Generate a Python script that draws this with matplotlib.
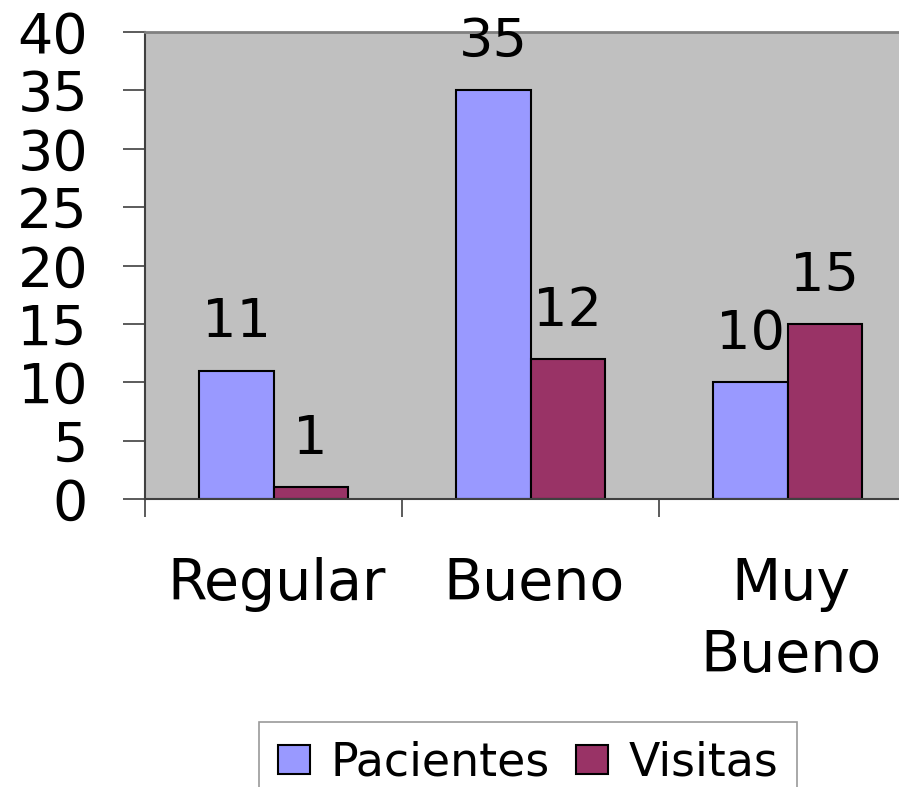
import numpy as np
import matplotlib
matplotlib.use("Agg")
import matplotlib.pyplot as plt

categories = ["Regular", "Bueno", "Muy\nBueno"]
pacientes = [11, 35, 10]
visitas = [1, 12, 15]
yticks = [0, 5, 10, 15, 20, 25, 30, 35, 40]

plt.rcParams['font.family'] = ['DejaVu Sans']

fig = plt.figure(figsize=(8.99, 7.87), dpi=100)
ax = fig.add_axes([145 / 899, 1 - 499 / 787, 771 / 899, 467 / 787])
ax.set_facecolor('#C0C0C0')

x = np.arange(len(categories))
w = 0.288
b1 = ax.bar(x - w / 2, pacientes, w, color='#9999FF', edgecolor='black', linewidth=1.5, label='Pacientes')
b2 = ax.bar(x + w / 2, visitas, w, color='#993366', edgecolor='black', linewidth=1.5, label='Visitas')

for bars, vals in ((b1, pacientes), (b2, visitas)):
    for r, v in zip(bars, vals):
        ax.annotate(str(v), (r.get_x() + r.get_width() / 2, v), xytext=(0, 24),
                    textcoords='offset points', ha='center', va='baseline', fontsize=39)

ax.set_xlim(-0.5, 2.5)
ax.set_ylim(0, 40)
ax.set_yticks(yticks)
ax.tick_params(axis='y', labelsize=40, length=16, width=1.2, color='#404040', pad=25)
ax.set_xticks(x + 0.012)
ax.set_xticklabels(categories, fontsize=41, linespacing=1.38)
ax.tick_params(axis='x', which='major', length=0, pad=42)
ax.set_xticks([-0.5, 0.5, 1.5, 2.5], minor=True)
ax.tick_params(axis='x', which='minor', length=13, width=1.2, color='#404040')

ax.spines['left'].set_color('#404040')
ax.spines['left'].set_linewidth(1.5)
ax.spines['bottom'].set_color('#404040')
ax.spines['bottom'].set_linewidth(1.5)
ax.spines['top'].set_color('#808080')
ax.spines['top'].set_linewidth(2)
ax.spines['right'].set_visible(False)

leg = fig.legend(loc='upper left', bbox_to_anchor=(259 / 899, 1 - 722 / 787), ncol=2,
                 fontsize=33, frameon=True, fancybox=False, borderaxespad=0,
                 handlelength=0.7, handleheight=0.61, handletextpad=0.44,
                 columnspacing=0.59, borderpad=0.41)
leg.get_frame().set_edgecolor('#808080')
leg.get_frame().set_linewidth(1.2)

fig.savefig('out.png', dpi=100)
